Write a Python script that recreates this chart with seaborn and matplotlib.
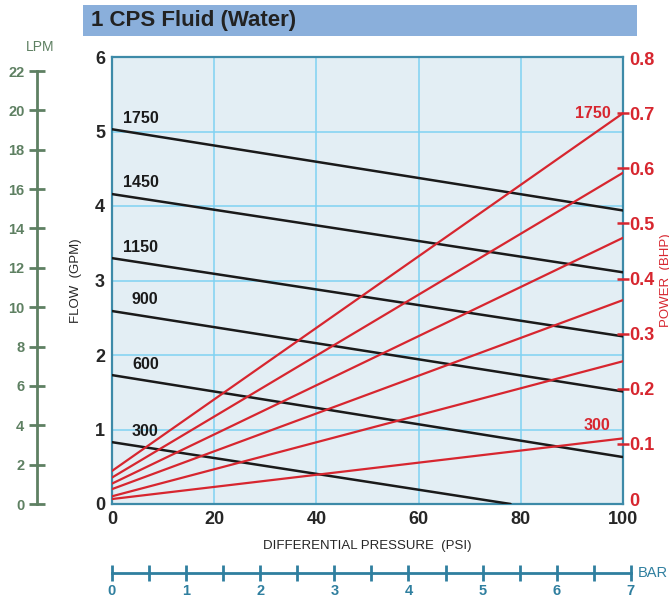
import numpy as np
import pandas as pd
import matplotlib
matplotlib.use("Agg")
import matplotlib.pyplot as plt
import seaborn as sns
from matplotlib.patches import Rectangle
from matplotlib.ticker import MultipleLocator

# 數據
rpm = [300, 600, 900, 1150, 1450, 1750]
psi_start = [0, 0, 0, 0, 0, 0]
psi_end = [78, 100, 100, 100, 100, 100]
flow_start = [0.83, 1.73, 2.59, 3.30, 4.16, 5.03]
flow_end = [0.0, 0.63, 1.51, 2.25, 3.11, 3.94]
power_start = [0.0, 0.005, 0.018, 0.028, 0.039, 0.051]
power_end = [0.11, 0.25, 0.361, 0.474, 0.592, 0.70]
power_labels = [300, 1750]

psi_ticks = [0, 20, 40, 60, 80, 100]
gpm_ticks = [0, 1, 2, 3, 4, 5, 6]
bhp_ticks = [0, 0.1, 0.2, 0.3, 0.4, 0.5, 0.6, 0.7, 0.8]
lpm_ticks = list(range(0, 23, 2))
bar_ticks = list(range(0, 8))

GPM_TO_LPM = 3.78541

RED = "#d7262f"
GREEN = "#5e8062"
TEAL = "#2f7f9f"
BORDER = "#3d8aa8"
GRID = "#7fd2f2"
BG = "#e3eef4"

sns.set_theme(style="white")
plt.rcParams["font.family"] = ["Liberation Sans", "DejaVu Sans"]

flow_df = pd.DataFrame({
    "rpm": rpm * 2,
    "psi": psi_start + psi_end,
    "gpm": flow_start + flow_end,
})
power_df = pd.DataFrame({
    "rpm": rpm * 2,
    "psi": psi_start + [100] * len(rpm),
    "bhp": power_start + power_end,
})

W, H = 669, 598
fig = plt.figure(figsize=(W / 100, H / 100), dpi=100)


def fx(px):
    return px / W


def fy(py):
    return 1 - py / H


x0, x1, y0, y1 = 112, 623, 504, 57
ax = fig.add_axes([fx(x0), fy(y0), fx(x1 - x0), (y0 - y1) / H])
ax.set_facecolor(BG)

sns.lineplot(data=flow_df, x="psi", y="gpm", hue="rpm", units="rpm",
             estimator=None, palette=["#1a1a1a"] * 6, linewidth=1.8,
             legend=False, ax=ax, zorder=4)
ax.set_xlim(0, 100)
ax.set_ylim(0, 6)
ax.set_xticks(psi_ticks)
ax.set_yticks(gpm_ticks)
ax.grid(True, color=GRID, linewidth=1.1, zorder=0)
ax.set_axisbelow(True)
for s in ax.spines.values():
    s.set_color(BORDER)
    s.set_linewidth(1.6)
ax.tick_params(length=0, labelsize=13, pad=5)
for t in ax.get_xticklabels() + ax.get_yticklabels():
    t.set_fontweight("bold")
ax.set_xlabel("DIFFERENTIAL PRESSURE  (PSI)", fontsize=9.5, labelpad=9)
ax.set_ylabel("FLOW  (GPM)", fontsize=9.5, labelpad=9)

for r, f in zip(rpm, flow_start):
    dx = 2.2 if r >= 1150 else 3.9
    ax.annotate(str(r), (dx, f), xytext=(0, 8), textcoords="offset points",
                ha="left", va="center", fontsize=11.5, fontweight="bold",
                color="#1a1a1a", zorder=6)

# 右軸 功率
ax2 = ax.twinx()
sns.lineplot(data=power_df, x="psi", y="bhp", hue="rpm", units="rpm",
             estimator=None, palette=[RED] * 6, linewidth=1.6,
             legend=False, ax=ax2, zorder=5)
ax2.set_ylim(-0.009, 0.802)
ax2.set_xlim(0, 100)
ax2.set_yticks(bhp_ticks)
ax2.set_yticklabels([("%g" % v) for v in bhp_ticks])
ax2.tick_params(axis="y", which="major", right=True, direction="inout",
                length=9, width=1.8, color=RED, labelsize=13,
                labelcolor=RED, pad=0)
# 0 與 0.8 沒有刻度線
ticks2 = ax2.yaxis.get_major_ticks()
for tk in (ticks2[0], ticks2[-1]):
    tk.tick2line.set_visible(False)
ax2.grid(False)
for t in ax2.get_yticklabels():
    t.set_fontweight("bold")
for s in ax2.spines.values():
    s.set_visible(False)
ax2.set_ylabel("")
for r, p in zip(rpm, power_end):
    if r in power_labels:
        dy = 0 if r == 1750 else 9
        ax2.annotate(str(r), (100, p), xytext=(-9, dy),
                     textcoords="offset points", ha="right", va="center",
                     fontsize=11.5, fontweight="bold", color=RED)

fig.text(fx(660), fy(280), "POWER  (BHP)", rotation=90, ha="left",
         va="center", fontsize=9.5, color=RED)

# 左側 LPM 刻度
axl = fig.add_axes([fx(37), fy(y0), 0.001, (y0 - y1) / H])
axl.set_facecolor("none")
axl.set_ylim(0, 6 * GPM_TO_LPM)
axl.set_xticks([])
axl.set_yticks(lpm_ticks)
for k, s in axl.spines.items():
    s.set_visible(k == "left")
axl.spines["left"].set_color(GREEN)
axl.spines["left"].set_linewidth(2)
axl.spines["left"].set_bounds(0, 22)
axl.tick_params(axis="y", left=True, direction="inout", length=12, width=2,
                color=GREEN, labelcolor=GREEN, labelsize=10.5, pad=3)
for t in axl.get_yticklabels():
    t.set_fontweight("bold")
fig.text(fx(40), fy(47), "LPM", ha="center", va="center", fontsize=10,
         color=GREEN)

# 下方 BAR 刻度
bar_right = x0 + 7 * 14.5038 * (x1 - x0) / 100
axb = fig.add_axes([fx(x0), fy(573), fx(bar_right - x0), 0.001])
axb.set_facecolor("none")
axb.set_xlim(0, 7)
axb.set_yticks([])
axb.set_xticks(bar_ticks)
axb.xaxis.set_minor_locator(MultipleLocator(0.5))
for k, s in axb.spines.items():
    s.set_visible(k == "bottom")
axb.spines["bottom"].set_color(TEAL)
axb.spines["bottom"].set_linewidth(2)
axb.tick_params(axis="x", which="both", bottom=True, direction="inout",
                length=12, width=2, color=TEAL, labelcolor=TEAL,
                labelsize=10.5, pad=2)
for t in axb.get_xticklabels():
    t.set_fontweight("bold")
fig.text(fx(638), fy(573), "BAR", ha="left", va="center", fontsize=10.5,
         color=TEAL)

# 標題
fig.patches.append(Rectangle((fx(83), fy(36)), fx(637 - 83), 31 / H,
                             transform=fig.transFigure, facecolor="#8aafdb",
                             edgecolor="none", zorder=0))
fig.text(fx(91), fy(20.5), "1 CPS Fluid (Water)", ha="left", va="center",
         fontsize=16, fontweight="bold", color="#222222")

fig.savefig("out.png", dpi=100)
